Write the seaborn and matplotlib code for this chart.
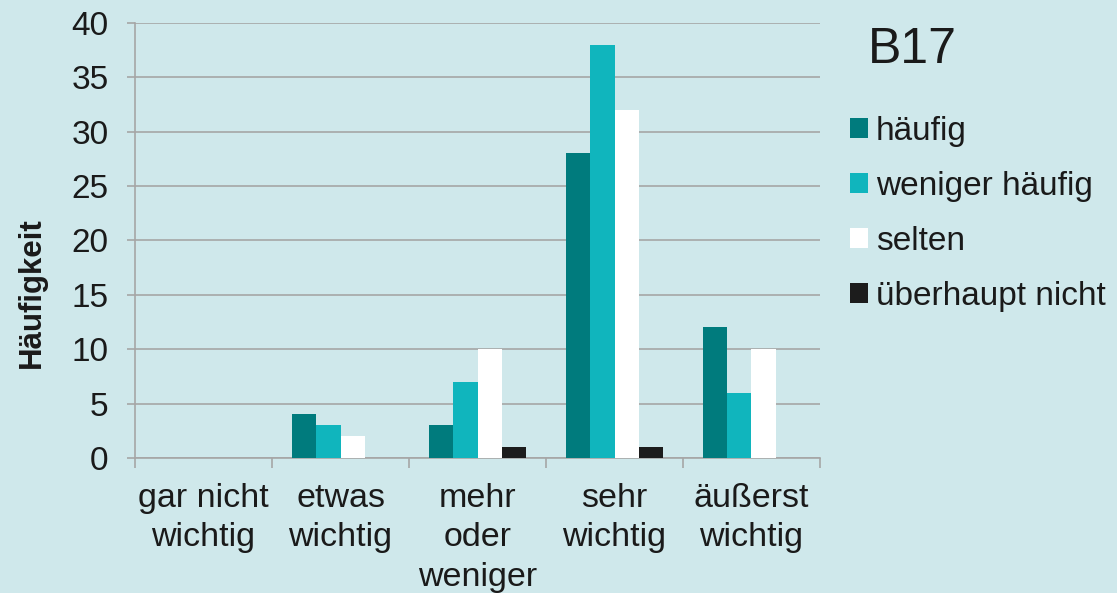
import matplotlib
matplotlib.use("Agg")
import matplotlib.pyplot as plt
from matplotlib.patches import Patch
import seaborn as sns
import pandas as pd
import numpy as np

categories = ["gar nicht\nwichtig", "etwas\nwichtig", "mehr\noder\nweniger", "sehr\nwichtig", "äußerst\nwichtig"]
series = ["häufig", "weniger häufig", "selten", "überhaupt nicht"]
haeufig = [0, 4, 3, 28, 12]
weniger_haeufig = [0, 3, 7, 38, 6]
selten = [0, 2, 10, 32, 10]
ueberhaupt_nicht = [0, 0, 1, 1, 0]
yticks = [0, 5, 10, 15, 20, 25, 30, 35, 40]
colors = ["#007b7d", "#10b5bd", "#ffffff", "#1c1c1c"]
bg = "#cfe8eb"
grid_c = "#a6a6a6"
txt_c = "#1a1a1a"

values = [haeufig, weniger_haeufig, selten, ueberhaupt_nicht]
rows = []
for s, vals in zip(series, values):
    for c, v in zip(categories, vals):
        rows.append({"Kategorie": c, "Serie": s, "Wert": v})
df = pd.DataFrame(rows)

sns.set_theme(style="white")
plt.rcParams["font.family"] = ["Liberation Sans", "DejaVu Sans"]
plt.rcParams["text.color"] = txt_c

fig = plt.figure(figsize=(11.17, 5.93), dpi=100)
fig.patch.set_facecolor(bg)
ax = fig.add_axes([0.1209, 0.2277, 0.7341 - 0.1209, 0.9612 - 0.2277])
ax.set_facecolor(bg)

sns.barplot(data=df, x="Kategorie", y="Wert", hue="Serie", order=categories,
            hue_order=series, palette=colors, width=0.715, saturation=1,
            linewidth=0, legend=False, ax=ax, zorder=3)

ax.set_ylim(0, 40)
ax.set_xlim(-0.5, len(categories) - 0.5)
ax.set_yticks(yticks)
ax.set_yticklabels([str(t) for t in yticks])
ax.yaxis.grid(True, color=grid_c, linewidth=1.2, zorder=0)
ax.set_axisbelow(True)

# labels at centres, tick marks at category boundaries
ax.set_xticks(np.arange(len(categories)))
ax.set_xticklabels(categories, linespacing=1.35)
ax.set_xticks(np.arange(len(categories) + 1) - 0.5, minor=True)
ax.tick_params(axis="x", which="major", length=0, pad=18, labelsize=24.5, labelcolor=txt_c)
ax.tick_params(axis="x", which="minor", length=7, width=1.2, color=grid_c, bottom=True)
ax.tick_params(axis="y", which="major", length=6, width=1.2, color=grid_c, pad=13,
               labelsize=24, labelcolor=txt_c, left=True)

for side in ["top", "right"]:
    ax.spines[side].set_visible(False)
for side in ["left", "bottom"]:
    ax.spines[side].set_color(grid_c)
    ax.spines[side].set_linewidth(1.2)

ax.set_xlabel("")
ax.set_ylabel("Häufigkeit", fontsize=22.5, fontweight="bold", color=txt_c)
ax.yaxis.set_label_coords(-0.128, 0.379)

handles = [Patch(facecolor=c, edgecolor="none", label=s) for c, s in zip(colors, series)]
fig.legend(handles=handles, loc="upper left", bbox_to_anchor=(0.761, 0.805),
           frameon=False, fontsize=24, handlelength=0.55, handleheight=0.55,
           handletextpad=0.22, labelspacing=0.72, borderpad=0, borderaxespad=0)

fig.text(0.777, 0.894, "B17", fontsize=36, color=txt_c, va="baseline", ha="left")

fig.savefig("out.png", dpi=100, facecolor=bg)
